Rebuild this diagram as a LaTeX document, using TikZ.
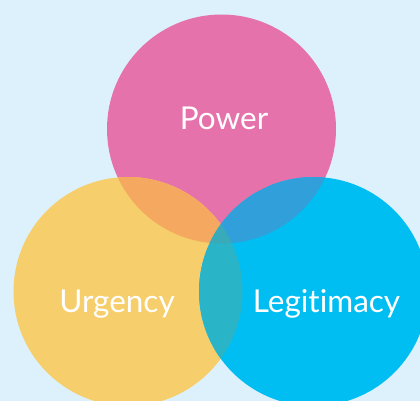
\documentclass[tikz,border=0pt]{standalone}
\usepackage{fontspec}
\setmainfont{Lato}[Ligatures={NoCommon}]
\definecolor{bgc}{HTML}{DDF1FC}
\definecolor{pinkc}{HTML}{E672AC}
\definecolor{yellowc}{HTML}{F6CE6B}
\definecolor{cyanc}{HTML}{00BEF2}
\definecolor{pyc}{HTML}{F5A960}
\definecolor{pcc}{HTML}{31A0DA}
\definecolor{ycc}{HTML}{29B4C8}
\definecolor{allc}{HTML}{39AAB9}
\begin{document}
\begin{tikzpicture}[x=1pt,y=-1pt,
  lbl/.style={text=white,font=\fontsize{31.5}{31.5}\selectfont,anchor=base}]
\fill[bgc] (0,0) rectangle (420,401);
\useasboundingbox (0,0) rectangle (420,401);
\clip (0,0) rectangle (420,401);
\def\R{114.5}
\coordinate (P) at (221.5,129);
\coordinate (Y) at (128,291.5);
\coordinate (C) at (313.5,291.5);
\fill[pinkc] (P) circle (\R);
\fill[yellowc] (Y) circle (\R);
\fill[cyanc] (C) circle (\R);
\begin{scope}
  \clip (P) circle (\R);
  \fill[pyc] (Y) circle (\R);
  \fill[pcc] (C) circle (\R);
\end{scope}
\begin{scope}
  \clip (Y) circle (\R);
  \fill[ycc] (C) circle (\R);
  \clip (C) circle (\R);
  \fill[allc] (P) circle (\R);
\end{scope}
\node[lbl] (tp) at (224,129) {Power};
\node[lbl] (tu) at (117,312) {Urgency};
\node[lbl] (tl) at (326.5,312) {Legitimacy};
\end{tikzpicture}
\end{document}
